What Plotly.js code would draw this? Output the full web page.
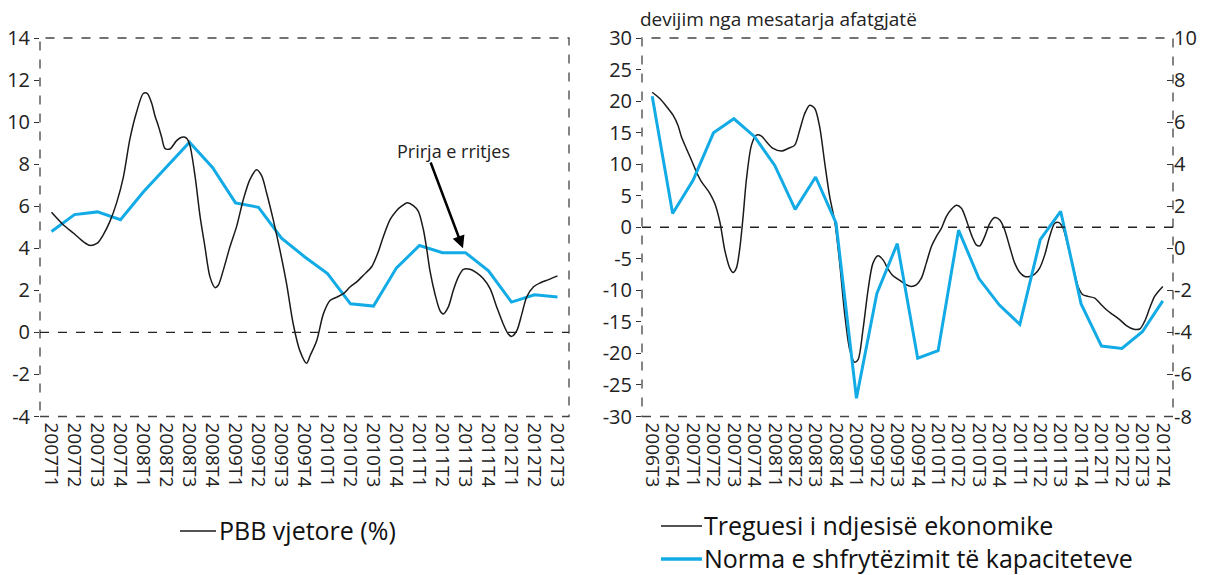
<!DOCTYPE html>
<html>
<head>
<meta charset="utf-8">
<script src="https://cdn.plot.ly/plotly-3.0.1.min.js"></script>
<style>html,body{margin:0;padding:0;background:#fff}#chart{width:1212px;height:575px}</style>
</head>
<body>
<div id="chart"></div>
<script>
// ---- Left chart data ----
const leftCats = ['2007T1','2007T2','2007T3','2007T4','2008T1','2008T2','2008T3','2008T4','2009T1','2009T2','2009T3','2009T4','2010T1','2010T2','2010T3','2010T4','2011T1','2011T2','2011T3','2011T4','2012T1','2012T2','2012T3'];
const trendValues = [4.8,5.6,5.73,5.36,6.69,7.84,9.04,7.84,6.16,5.95,4.48,3.6,2.8,1.36,1.25,3.07,4.13,3.79,3.79,2.93,1.44,1.79,1.68];
const pbbX = [0,0.51,0.99,1.38,1.67,1.99,2.25,2.54,2.83,3.12,3.41,3.70,3.99,4.17,4.36,4.50,4.64,4.79,4.93,5.15,5.44,5.66,5.88,6.02,6.24,6.46,6.67,6.89,7.11,7.25,7.47,7.76,8.05,8.34,8.63,8.92,9.14,9.35,9.64,9.93,10.22,10.51,10.80,11.09,11.24,11.53,11.82,12.11,12.41,12.69,12.98,13.27,13.56,13.92,14.21,14.43,14.72,15.0,15.22,15.47,15.73,15.95,16.17,16.32,16.45,16.67,16.89,17.03,17.25,17.47,17.69,17.91,18.20,18.49,18.77,19.07,19.36,19.64,19.86,20.01,20.23,20.45,20.66,20.95,21.24,21.61,22.0];
const pbbY = [5.71,5.12,4.69,4.32,4.14,4.24,4.64,5.28,6.16,7.36,9.2,10.48,11.36,11.36,10.88,10.29,9.84,9.28,8.75,8.72,9.12,9.28,9.23,8.88,7.44,5.52,4.08,2.64,2.13,2.24,2.96,4.08,5.04,6.32,7.28,7.73,7.44,6.64,5.36,3.92,2.32,0.4,-0.88,-1.47,-1.12,-0.4,0.88,1.52,1.68,1.84,2.16,2.4,2.72,3.12,3.84,4.56,5.36,5.79,6.0,6.16,6.03,5.76,4.88,3.92,2.96,1.84,1.04,0.88,1.2,2.0,2.64,3.0,3.0,2.83,2.56,2.08,1.2,0.4,-0.08,-0.19,0.08,0.88,1.68,2.16,2.35,2.51,2.69];
const leftYTicks = [-4,-2,0,2,4,6,8,10,12,14];

// ---- Right chart data ----
const rightCats = ['2006T3','2006T4','2007T1','2007T2','2007T3','2007T4','2008T1','2008T2','2008T3','2008T4','2009T1','2009T2','2009T3','2009T4','2010T1','2010T2','2010T3','2010T4','2011T1','2011T2','2011T3','2011T4','2012T1','2012T2','2012T3','2012T4'];
const capacityValues = [7.23,1.65,3.23,5.49,6.16,5.32,3.94,1.85,3.39,1.21,-7.13,-2.15,0.22,-5.23,-4.87,0.86,-1.44,-2.70,-3.62,0.41,1.76,-2.65,-4.65,-4.76,-3.97,-2.5];
const esiX = [0,0.37,0.69,1.02,1.26,1.43,1.67,1.92,2.16,2.41,2.65,2.82,3.06,3.31,3.55,3.80,3.96,4.12,4.28,4.45,4.61,4.86,5.10,5.35,5.59,5.92,6.33,6.65,6.98,7.22,7.47,7.71,7.96,8.20,8.45,8.69,8.94,9.18,9.42,9.67,9.91,10.08,10.32,10.57,10.81,11.06,11.30,11.55,11.79,12.12,12.44,12.69,12.93,13.18,13.42,13.67,13.91,14.16,14.40,14.65,14.90,15.14,15.38,15.63,15.87,16.04,16.28,16.53,16.77,17.02,17.26,17.50,17.75,18.0,18.24,18.48,18.73,18.97,19.22,19.46,19.71,19.92,20.12,20.36,20.61,20.85,21.09,21.34,21.67,21.91,22.24,22.56,22.89,23.22,23.54,23.87,24.11,24.36,24.60,25.0];
const esiY = [21.4,20.4,19.19,17.77,16.18,14.34,12.49,10.65,8.8,7.22,6.17,5.38,3.8,0.9,-3.58,-6.48,-7.17,-6.48,-3.58,1.69,7.49,13.02,14.6,14.44,13.55,12.49,12.07,12.49,13.02,15.39,18.03,19.35,18.82,15.92,10.12,4.85,0.9,-5.69,-13.6,-19.4,-21.4,-20.98,-16.24,-9.91,-5.69,-4.53,-5.17,-6.64,-7.70,-8.43,-9.12,-9.38,-9.12,-8.07,-5.69,-3.06,-1.48,-0.16,1.69,2.85,3.48,3.0,1.16,-1.21,-2.79,-2.95,-1.48,0.63,1.53,1.16,-0.42,-3.06,-5.69,-7.17,-7.80,-7.80,-7.43,-6.48,-4.38,-1.48,0.63,0.74,-0.16,-3.06,-6.22,-9.38,-10.7,-10.96,-11.23,-12.02,-13.07,-13.86,-14.65,-15.6,-16.13,-16.13,-14.92,-12.81,-10.96,-9.38];
const rightYTicks = [-30,-25,-20,-15,-10,-5,0,5,10,15,20,25,30];
const rightY2Ticks = [-8,-6,-4,-2,0,2,4,6,8,10];

const leftIdx = leftCats.map((c,i)=>i);
const rightIdx = rightCats.map((c,i)=>i);

const BLUE = '#12ABE6';
const BLACK = '#1a1a1a';
const FONT = '"Open Sans", Lato, sans-serif';

const traces = [
  {x: leftIdx, y: trendValues, xaxis:'x', yaxis:'y', mode:'lines', line:{color:BLUE, width:3}, showlegend:false, name:'Prirja e rritjes'},
  {x: pbbX, y: pbbY, xaxis:'x', yaxis:'y', mode:'lines', line:{color:BLACK, width:1.5, shape:'spline', smoothing:0.8}, name:'PBB vjetore (%)', showlegend:false},
  {x: esiX, y: esiY, xaxis:'x2', yaxis:'y2', mode:'lines', line:{color:BLACK, width:1.5, shape:'spline', smoothing:0.8}, name:'Treguesi i ndjesisë ekonomike', showlegend:false},
  {x: rightIdx, y: capacityValues, xaxis:'x2', yaxis:'y3', mode:'lines', line:{color:BLUE, width:3}, name:'Norma e shfrytëzimit të kapaciteteve', showlegend:false}
];

const yTop = 1 - 38/575, yBot = 1 - 416.5/575;
const tickFont = {family: FONT, size: 20, color:'#222'};
const xFont = {family: FONT, size: 19, color:'#222'};
const hy = v => String(v).replace('\u2212','-');
const legFont = {family: FONT, size: 25, color:'#111'};
const P = (px) => px/1212, Q = (py) => 1 - py/575;

const layout = {
  width:1212, height:575,
  margin:{l:0,r:0,t:0,b:0},
  paper_bgcolor:'#fff', plot_bgcolor:'rgba(0,0,0,0)',
  font:{family:FONT, color:'#222'},
  showlegend:false,
  xaxis:{domain:[P(40), P(569)], anchor:'y', range:[-0.5,22.5], tickvals:leftIdx, ticktext:leftCats, tickangle:90, tickfont:xFont, showgrid:false, zeroline:false, showline:false, ticks:'', ticklabelstandoff:5, automargin:false},
  yaxis:{domain:[yBot,yTop], anchor:'x', range:[-4,14], tickvals:leftYTicks, ticktext:leftYTicks.map(hy), tickfont:tickFont, showgrid:false, zeroline:false, showline:false, ticks:'outside', ticklen:5, tickcolor:'#333', automargin:false},
  xaxis2:{domain:[P(642), P(1173)], anchor:'y2', range:[-0.5,25.5], tickvals:rightIdx, ticktext:rightCats, tickangle:90, tickfont:xFont, showgrid:false, zeroline:false, showline:false, ticks:'', ticklabelstandoff:5, automargin:false},
  yaxis2:{domain:[yBot,yTop], anchor:'x2', range:[-30,30], tickvals:rightYTicks, ticktext:rightYTicks.map(hy), tickfont:tickFont, showgrid:false, zeroline:false, showline:false, ticks:'outside', ticklen:5, tickcolor:'#333', automargin:false},
  yaxis3:{overlaying:'y2', anchor:'x2', side:'right', range:[-8,10], tickvals:rightY2Ticks, ticktext:rightY2Ticks.map(hy), tickfont:tickFont, showgrid:false, zeroline:false, showline:false, ticks:'inside', ticklen:6, tickcolor:'#333', automargin:false},
  shapes:[
    {type:'rect', xref:'x domain', yref:'y domain', x0:0, x1:1, y0:0, y1:1, line:{color:'#444', width:1.3, dash:'dash'}},
    {type:'rect', xref:'x2 domain', yref:'y2 domain', x0:0, x1:1, y0:0, y1:1, line:{color:'#444', width:1.3, dash:'dash'}},
    {type:'line', xref:'x domain', yref:'y', x0:0, x1:1, y0:0, y1:0, line:{color:'#222', width:1.3, dash:'dash'}},
    {type:'line', xref:'x2 domain', yref:'y2', x0:0, x1:1, y0:0, y1:0, line:{color:'#222', width:1.3, dash:'dash'}},
    // legend samples
    {type:'line', xref:'paper', yref:'paper', x0:P(180), x1:P(216), y0:Q(531), y1:Q(531), line:{color:BLACK, width:1.6}},
    {type:'line', xref:'paper', yref:'paper', x0:P(661), x1:P(702), y0:Q(526), y1:Q(526), line:{color:BLACK, width:1.6}},
    {type:'line', xref:'paper', yref:'paper', x0:P(661), x1:P(702), y0:Q(559), y1:Q(559), line:{color:BLUE, width:3.5}}
  ],
  annotations:[
    {text:'devijim nga mesatarja afatgjatë', xref:'paper', yref:'paper', x:P(638), y:Q(19), xanchor:'left', yanchor:'middle', showarrow:false, font:{family:FONT, size:19, color:'#222'}},
    {text:'Prirja e rritjes', xref:'x', yref:'y', x:17.46, y:8.63, xanchor:'center', yanchor:'middle', showarrow:false, font:{family:FONT, size:18, color:'#222'}},
    {text:'', xref:'x', yref:'y', x:17.89, y:4.0, axref:'x', ayref:'y', ax:16.46, ay:8.15, showarrow:true, arrowhead:2, arrowsize:1, arrowwidth:2.5, arrowcolor:'#000'},
    {text:'PBB vjetore (%)', xref:'paper', yref:'paper', x:P(217), y:Q(530), xanchor:'left', yanchor:'middle', showarrow:false, font:legFont},
    {text:'Treguesi i ndjesisë ekonomike', xref:'paper', yref:'paper', x:P(702), y:Q(525), xanchor:'left', yanchor:'middle', showarrow:false, font:legFont},
    {text:'Norma e shfrytëzimit të kapaciteteve', xref:'paper', yref:'paper', x:P(702), y:Q(558), xanchor:'left', yanchor:'middle', showarrow:false, font:legFont}
  ]
};

Plotly.newPlot('chart', traces, layout, {staticPlot:true, displayModeBar:false});
</script>
</body>
</html>
